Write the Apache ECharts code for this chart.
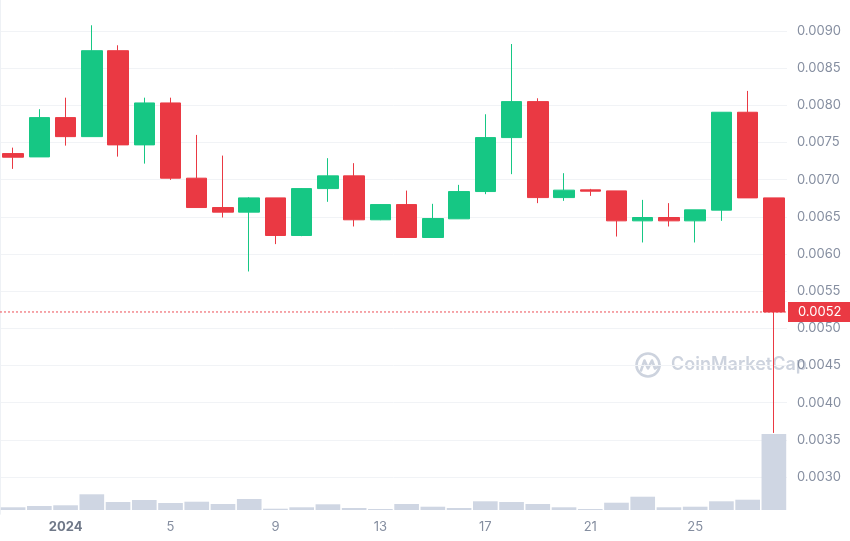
<!DOCTYPE html>
<html>
<head>
<meta charset="utf-8">
<script src="https://cdn.jsdelivr.net/npm/echarts@6/dist/echarts.min.js"></script>
<style>
html,body{margin:0;padding:0;background:#fff;}
#c{width:850px;height:541px;}
</style>
</head>
<body>
<div id="c"></div>
<script>
// ---- data ----
const dates = ['2023-12-30','2023-12-31','2024-01-01','2024-01-02','2024-01-03','2024-01-04','2024-01-05','2024-01-06','2024-01-07','2024-01-08','2024-01-09','2024-01-10','2024-01-11','2024-01-12','2024-01-13','2024-01-14','2024-01-15','2024-01-16','2024-01-17','2024-01-18','2024-01-19','2024-01-20','2024-01-21','2024-01-22','2024-01-23','2024-01-24','2024-01-25','2024-01-26','2024-01-27','2024-01-28'];
const openVals  = [0.007351,0.007306,0.007835,0.007579,0.008735,0.007468,0.008032,0.007020,0.006625,0.006563,0.006755,0.006249,0.006880,0.007051,0.006460,0.006665,0.006222,0.006473,0.006840,0.007566,0.008050,0.006759,0.006863,0.006849,0.006446,0.006491,0.006446,0.006590,0.007907,0.006755];
const closeVals = [0.007302,0.007835,0.007579,0.008735,0.007468,0.008032,0.007020,0.006625,0.006563,0.006755,0.006249,0.006880,0.007051,0.006460,0.006665,0.006222,0.006477,0.006840,0.007566,0.008050,0.006759,0.006859,0.006845,0.006446,0.006491,0.006446,0.006594,0.007907,0.006755,0.005220];
const lowVals   = [0.007145,0.007306,0.007458,0.007579,0.007310,0.007216,0.006997,0.006625,0.006491,0.005765,0.006133,0.006240,0.006702,0.006370,0.006455,0.006222,0.006222,0.006473,0.006805,0.007074,0.006684,0.006715,0.006782,0.006235,0.006155,0.006370,0.006155,0.006446,0.006755,0.003593];
const highVals  = [0.007431,0.007948,0.008103,0.009077,0.008808,0.008103,0.008103,0.007602,0.007324,0.006765,0.006755,0.006885,0.007289,0.007222,0.006670,0.006853,0.006675,0.006930,0.007880,0.008825,0.008095,0.007087,0.006876,0.006849,0.006728,0.006684,0.006594,0.007907,0.008194,0.006755];
const volumeVals = [2.7,4,4.7,15.7,8,10,7,8.3,6,11,1.3,2.7,5.7,2,1,6,3.3,2,8.7,8,6,2.7,1,7.3,13.3,2.7,3.3,8.7,10.3,76];
const xTickDates = ['2024-01-01','2024-01-05','2024-01-09','2024-01-13','2024-01-17','2024-01-21','2024-01-25'];
const xTickLabels = ['2024','5','9','13','17','21','25'];
const yMin = 0.0025, yMax = 0.009417, yStep = 0.0005;

const UP = '#16c784', DOWN = '#ea3943';
const candleData = dates.map((d, i) => [openVals[i], closeVals[i], lowVals[i], highVals[i]]);
const lastClose = closeVals[closeVals.length - 1];
const nTicks = Math.floor((yMax - yMin) / yStep + 1e-9) + 2;
const splitColors = [];
for (let i = 0; i < nTicks; i++) splitColors.push((i === 0 || i === nTicks - 1) ? 'rgba(0,0,0,0)' : '#f1f3f6');

const chart = echarts.init(document.getElementById('c'), null, {renderer: 'canvas'});
const FONT = 'Inter, "Noto Sans", sans-serif';
chart.setOption({
  animation: false,
  backgroundColor: '#fff',
  grid: [
    {left: -1, width: 788, top: 0, height: 514.17},
    {left: -1, width: 788, bottom: 31, height: 100}
  ],
  xAxis: [
    {type: 'category', gridIndex: 0, data: dates, boundaryGap: true,
     axisLine: {show: false}, axisTick: {show: false}, axisLabel: {show: false}, splitLine: {show: false}},
    {type: 'category', gridIndex: 1, data: dates, boundaryGap: true,
     axisLine: {show: false}, axisTick: {show: false}, splitLine: {show: false},
     axisLabel: {
       margin: 11,
       interval: (idx, val) => xTickDates.indexOf(val) >= 0,
       formatter: (val) => {
         const k = xTickDates.indexOf(val);
         if (k < 0) return '';
         return k === 0 ? '{b|' + xTickLabels[k] + '}' : xTickLabels[k];
       },
       color: '#858ea0', fontSize: 13, fontFamily: FONT,
       rich: {b: {fontWeight: 'bold', color: '#6f7888', fontSize: 13, fontFamily: FONT}}
     }},
    {type: 'value', gridIndex: 0, min: 0, max: 1, show: false}
  ],
  yAxis: [
    {type: 'value', gridIndex: 0, position: 'right', min: yMin, max: yMax, interval: yStep,
     axisLine: {show: true, lineStyle: {color: '#eef1f5'}}, axisTick: {show: false},
     splitLine: {show: true, lineStyle: {color: splitColors, width: 1}},
     axisLabel: {show: true, showMinLabel: false, showMaxLabel: false, margin: 10,
       color: '#858ea0', fontSize: 13, fontFamily: FONT,
       formatter: (v) => v.toFixed(4)}},
    {type: 'value', gridIndex: 1, min: 0, max: 100, show: false}
  ],
  graphic: [
    {type: 'group', left: 634, top: 351, z: 0, silent: true, children: [
      {type: 'circle', shape: {cx: 14, cy: 13.5, r: 11.5}, style: {fill: 'none', stroke: '#cdd3de', lineWidth: 2.6}},
      {type: 'polyline', shape: {points: [[7,19],[10.5,9],[14,17],[18,9],[21,17],[26,14]]}, style: {fill: 'none', stroke: '#cdd3de', lineWidth: 2.6, lineJoin: 'round', lineCap: 'round'}}
    ]},
    {type: 'text', left: 671, top: 356, z: 0, silent: true,
     style: {text: 'CoinMarketCap', fill: '#cdd3de', font: '600 18px ' + FONT}}
  ],
  series: [
    {type: 'bar', xAxisIndex: 1, yAxisIndex: 1, data: volumeVals, barWidth: '94%',
     itemStyle: {color: '#cfd6e3'}, z: 1, silent: true},
    {type: 'line', xAxisIndex: 2, yAxisIndex: 0, data: [[0, lastClose], [1, lastClose]],
     symbol: 'none', silent: true, z: 2, clip: false,
     lineStyle: {color: DOWN, type: [2, 2], width: 1, opacity: 0.9},
     endLabel: {show: true, distance: 1,
       formatter: () => lastClose.toFixed(4),
       backgroundColor: DOWN, color: '#fff', fontSize: 13, fontFamily: FONT,
       padding: [4, 12, 3, 10]}},
    {type: 'candlestick', xAxisIndex: 0, yAxisIndex: 0, data: candleData, barWidth: '80%', z: 3,
     itemStyle: {color: UP, color0: DOWN, borderColor: UP, borderColor0: DOWN, borderWidth: 1}}
  ]
});
</script>
</body>
</html>
